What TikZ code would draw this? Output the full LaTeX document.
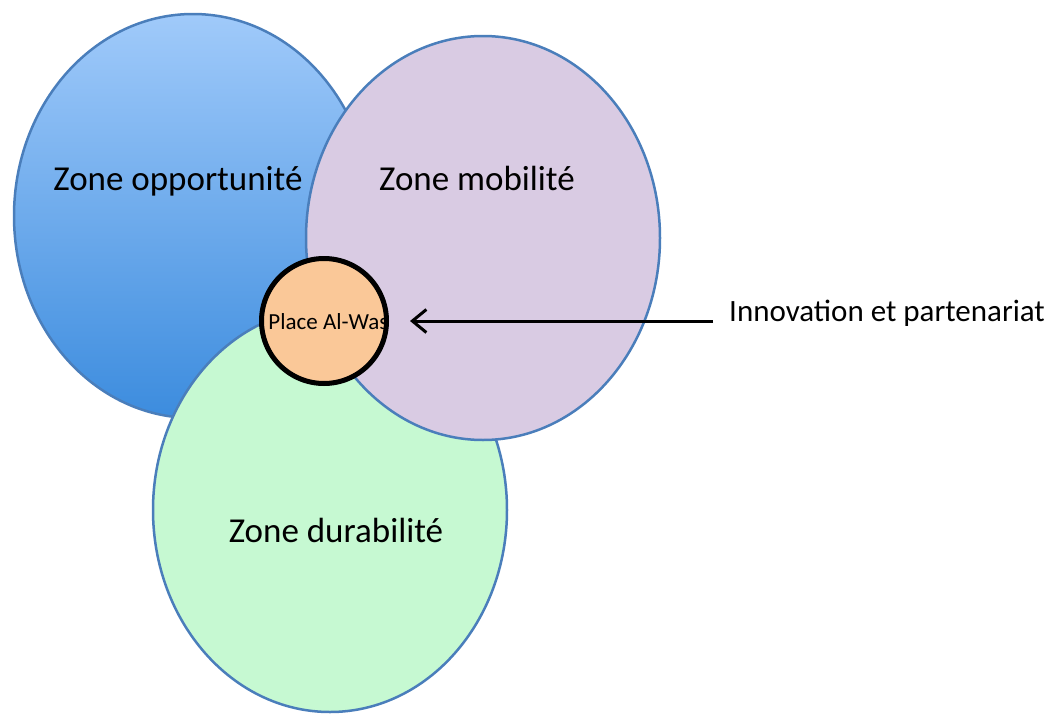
\documentclass[tikz,border=0pt]{standalone}
\usepackage{fontspec}
\setmainfont{Carlito}
\usetikzlibrary{arrows.meta,positioning,shapes.geometric}

\definecolor{zoneline}{RGB}{74,126,187}
\definecolor{oppotop}{RGB}{160,202,250}
\definecolor{oppobot}{RGB}{60,140,222}
\definecolor{mobifill}{RGB}{217,203,227}
\definecolor{durafill}{RGB}{198,249,210}
\definecolor{waslfill}{RGB}{250,200,152}

\begin{document}
\begin{tikzpicture}[
    x=1pt, y=-1pt,
    zone/.style={ellipse, draw=zoneline, line width=2.5pt, inner sep=0pt,
                 minimum width=354pt, minimum height=404pt},
    zonetext/.style={font=\fontsize{35}{40}\selectfont, anchor=base, inner sep=0pt},
    hub/.style={circle, draw=black, line width=5pt, fill=waslfill, inner sep=0pt,
                minimum size=125pt},
    note/.style={font=\fontsize{31}{36}\selectfont, anchor=base west, inner sep=0pt},
    pointer/.style={-{Straight Barb[length=14pt,width=23pt]}, line width=3pt, black}
]
\useasboundingbox (0,0) rectangle (1053,715);

% Zones
\node[zone, top color=oppotop, bottom color=oppobot, minimum width=358pt] (oppo) at (193,216) {};
\node[zone, fill=durafill] (dura) at (330,510) {};
\node[zone, fill=mobifill] (mobi) at (483,238) {};

% Zone labels
\node[zonetext] (oppotext) at (178,190) {Zone opportunité};
\node[zonetext] (mobitext) at (477,190) {Zone mobilité};
\node[zonetext] (duratext) at (336,542) {Zone durabilité};

% Place Al-Wasl
\node[hub, path picture={
    \node[font=\fontsize{23}{27}\selectfont, anchor=base west, inner sep=0pt]
        at ([xshift=4pt,yshift=-8pt]path picture bounding box.west) {Place Al-Wasl};
}] (wasl) at (324,321) {};

% Innovation
\node[note] (innov) at (729,321) {Innovation et partenariat};
\draw[pointer] ([xshift=-16pt]innov.base west) -- ([xshift=21pt]wasl.east);

\end{tikzpicture}
\end{document}
